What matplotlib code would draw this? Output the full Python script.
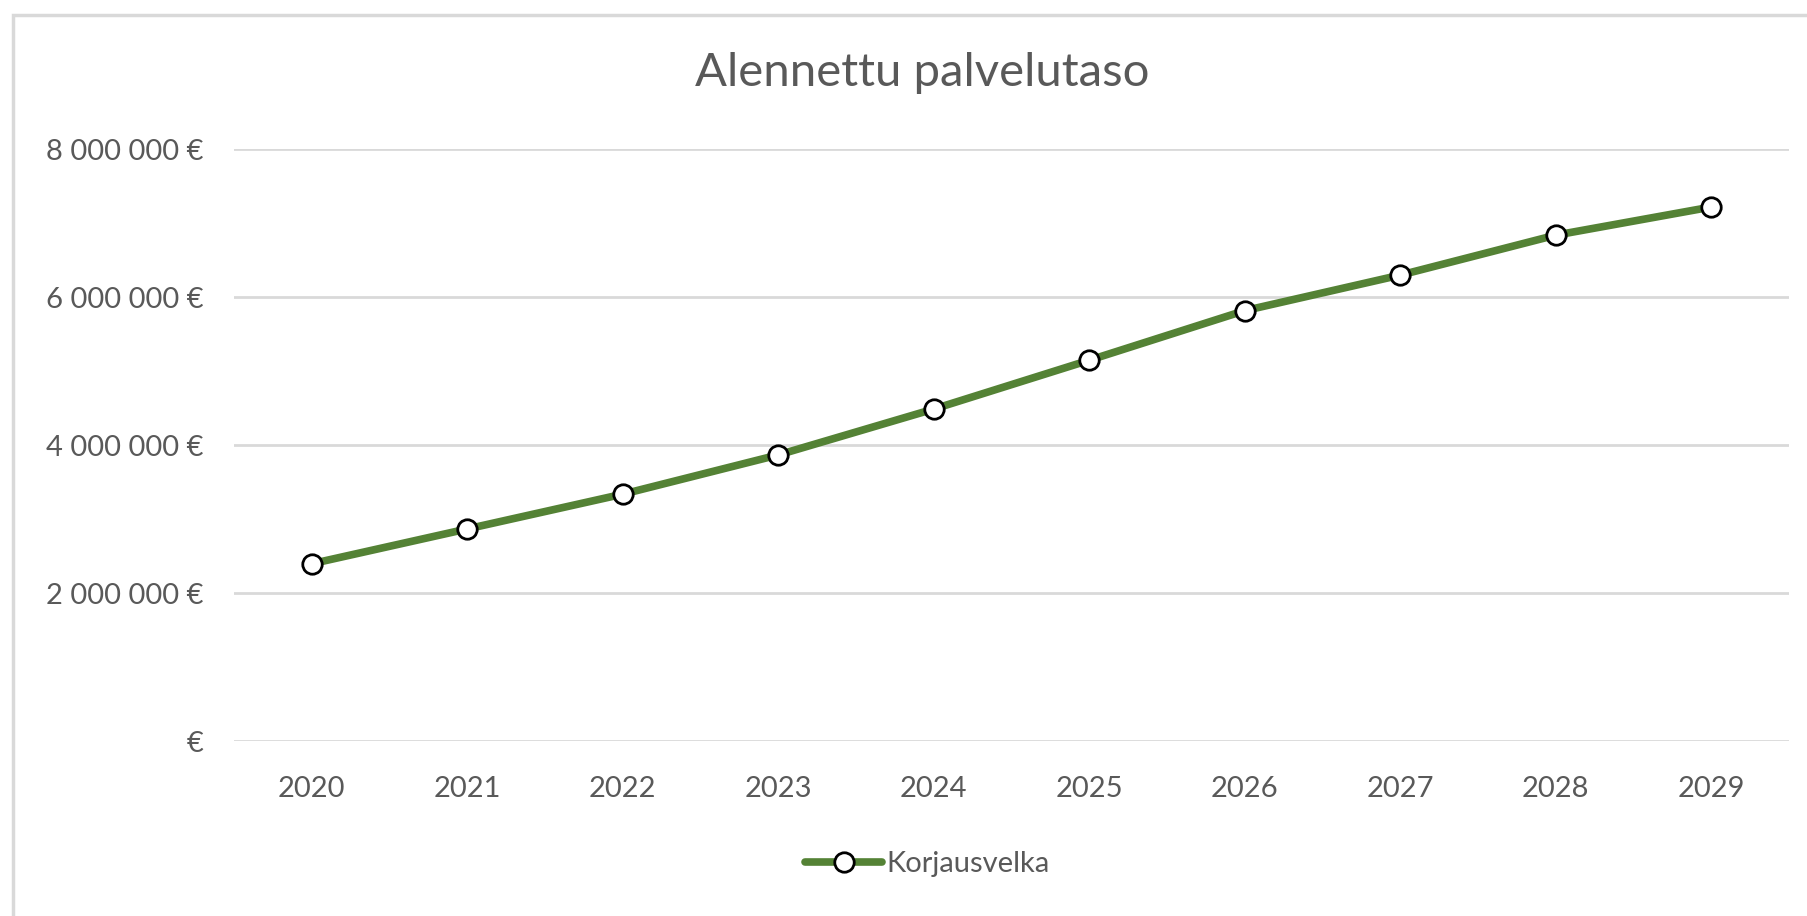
import matplotlib.pyplot as plt
from matplotlib.patches import Rectangle

plt.rcParams['font.family'] = ['Lato', 'DejaVu Sans']

# data
years = ['2020', '2021', '2022', '2023', '2024', '2025', '2026', '2027', '2028', '2029']
korjausvelka = [2400000, 2870000, 3340000, 3870000, 4490000, 5150000, 5820000, 6300000, 6840000, 7220000]
y_ticks = [0, 2000000, 4000000, 6000000, 8000000]
y_tick_labels = ['€', '2 000 000 €', '4 000 000 €', '6 000 000 €', '8 000 000 €']

text_col = '#595959'
grid_col = '#D9D9D9'
green = '#548235'

fig = plt.figure(figsize=(18.08, 9.16), dpi=100)
ax = fig.add_axes([0.1294, 0.1907, 0.8601, 0.6463])

x = list(range(len(years)))
ax.plot(x, korjausvelka, color=green, linewidth=5.5, marker='o', markersize=14,
        markerfacecolor='white', markeredgecolor='black', markeredgewidth=2,
        label='Korjausvelka', zorder=3, solid_capstyle='round')

ax.set_xlim(-0.5, len(years) - 0.5)
ax.set_ylim(0, 8000000)
ax.set_xticks(x)
ax.set_xticklabels(years)
ax.set_yticks(y_ticks)
ax.set_yticklabels(y_tick_labels)
ax.tick_params(axis='both', length=0, labelsize=21, labelcolor=text_col)
ax.tick_params(axis='y', pad=22)
ax.tick_params(axis='x', pad=25)
ax.grid(axis='y', color=grid_col, linewidth=2)
ax.set_axisbelow(True)
for s in ax.spines.values():
    s.set_visible(False)

fig.text(0.51, 0.92, 'Alennettu palvelutaso', ha='center', va='center',
         fontsize=34, color=text_col)

fig.legend(loc='center', bbox_to_anchor=(0.513, 0.0568), frameon=False,
           fontsize=21, handlelength=2.65, handletextpad=0.15,
           labelcolor=text_col)

# chart border
fig.patches.append(Rectangle((0.0072, -0.01), 1.0, 1.0034 - 0.01,
                             transform=fig.transFigure, fill=False,
                             edgecolor=grid_col, linewidth=2.5))

fig.savefig('out.png', dpi=100)
